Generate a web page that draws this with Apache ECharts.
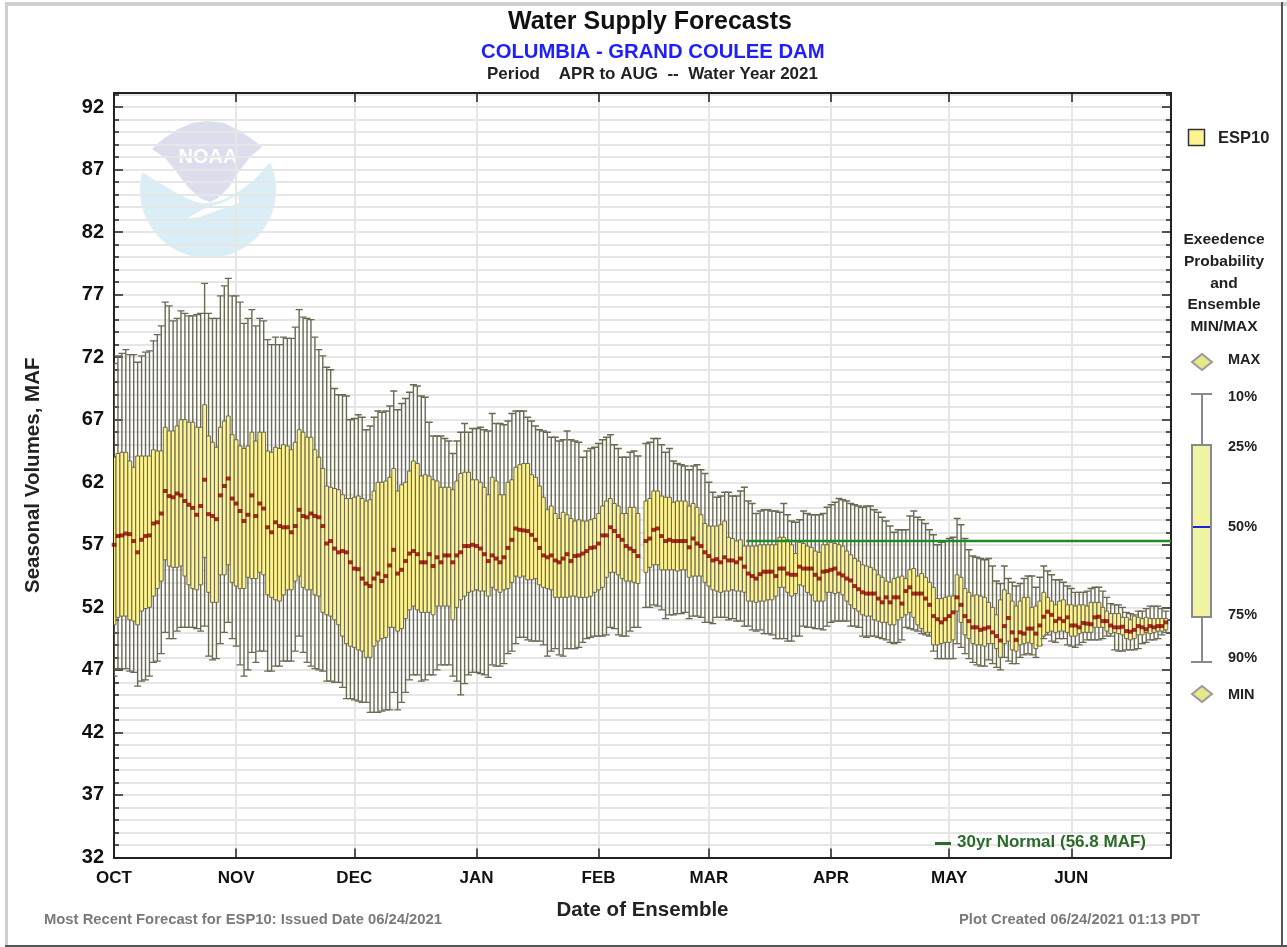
<!DOCTYPE html>
<html>
<head>
<meta charset="utf-8">
<style>
  html, body { margin: 0; padding: 0; background: #fff; }
  #chart { width: 1287px; height: 947px; }
</style>
<script src="https://cdn.jsdelivr.net/npm/echarts@6/dist/echarts.min.js"></script>
</head>
<body>
<div id="chart"></div>
<script>
// days since Oct 1 where each month starts
const monthStarts = [0, 31, 61, 92, 123, 151, 182, 212, 243]
const monthLabels = ['OCT', 'NOV', 'DEC', 'JAN', 'FEB', 'MAR', 'APR', 'MAY', 'JUN']
const volumeTicks = [32, 37, 42, 47, 52, 57, 62, 67, 72, 77, 82, 87, 92]

// 30yr normal as drawn on the plot (day range, MAF)
const normalDays = [160.5, 268.3]
const normalLevel = 57.3

// exceedence values per ensemble day, MAF
const p10 = [
  71.5,72.1,72.3,72.6,72.2,72.2,71.6,72.1,72.4,72.5,
  73.3,73.8,74.5,76.4,76.1,74.9,75.1,75.7,75.5,75.3,
  75.3,75.4,75.5,77.9,75.5,75.1,75.1,76.9,77.7,78.3,
  76.9,76.9,76.4,74.7,75.1,75.8,74.5,75.1,74.9,73.4,
  73.0,73.6,73.0,73.6,73.5,73.5,74.4,75.8,75.2,75.1,
  75.0,73.6,72.6,72.1,71.2,71.0,69.5,69.0,69.0,68.9,
  67.0,67.1,67.4,67.2,66.2,66.5,67.2,67.7,67.6,67.7,
  68.1,69.3,67.8,68.3,68.7,69.2,69.8,69.7,68.9,68.8,
  66.8,65.7,65.7,65.7,65.5,65.3,64.3,65.3,66.0,66.7,
  66.0,66.3,66.3,66.4,66.2,66.1,67.5,66.7,66.7,66.6,
  66.9,67.5,67.7,67.7,67.7,67.2,66.9,66.5,66.2,66.1,
  66.0,65.6,65.6,65.3,65.4,66.1,65.4,65.3,65.2,64.0,
  64.5,64.7,64.8,65.1,65.4,65.6,65.8,65.0,64.7,64.0,
  64.0,64.4,64.5,64.1,null,65.1,65.2,65.5,65.5,65.0,
  64.4,64.7,63.7,63.5,63.4,63.3,63.0,63.3,63.4,63.0,
  62.7,62.0,61.2,60.8,60.9,61.2,61.2,60.9,60.9,61.3,
  61.6,60.5,60.3,59.5,59.7,59.8,59.8,59.7,59.7,59.6,
  60.3,59.4,58.9,58.8,59.0,59.7,59.5,59.4,59.4,59.4,
  59.5,60.0,60.2,60.4,60.7,60.6,60.5,60.3,60.2,60.1,
  60.0,60.1,60.1,59.8,59.6,59.2,58.9,58.5,58.0,58.2,
  58.2,58.2,59.3,59.7,59.2,59.0,58.7,58.2,57.8,57.0,
  57.2,57.3,57.5,57.6,59.1,58.6,57.5,56.6,56.1,56.0,
  55.9,55.8,55.9,55.3,54.1,53.9,55.3,54.3,54.0,53.7,
  53.9,54.3,54.5,54.5,53.6,54.4,55.3,54.9,54.6,54.2,
  54.2,54.0,53.7,53.5,53.2,53.2,53.2,53.3,53.5,53.6,
  53.6,53.3,52.8,52.3,52.2,52.2,52.0,51.6,51.5,51.4,
  51.7,51.7,51.9,52.1,52.1,52.1,51.9,51.7
]
const p25 = [
  64.0,64.3,64.4,64.4,63.7,63.2,64.1,64.1,64.1,64.1,
  64.6,64.5,64.5,66.4,66.1,66.1,66.5,67.0,67.0,66.8,
  66.8,66.4,66.4,68.2,65.7,65.2,64.8,66.4,66.9,67.3,
  65.8,65.4,64.9,64.7,64.9,66.0,65.3,66.0,66.0,64.5,
  64.4,64.8,64.7,65.0,64.9,64.6,65.2,66.2,66.0,65.6,
  65.6,64.6,64.0,63.1,61.7,61.6,61.5,61.4,61.0,60.7,
  60.7,60.8,60.9,60.7,60.5,60.6,61.3,62.0,62.0,62.1,
  62.4,63.1,61.3,61.8,62.0,62.9,63.7,63.5,62.5,62.6,
  62.5,62.2,62.1,61.6,61.6,61.6,61.4,62.1,62.7,62.8,
  62.8,62.2,62.2,62.0,61.6,61.0,62.4,62.1,61.0,61.0,
  62.0,62.2,63.2,63.4,63.5,63.5,62.6,62.4,61.7,60.8,
  59.8,60.1,59.5,59.1,59.6,59.4,59.1,58.9,59.0,58.9,
  58.9,59.0,59.1,59.5,60.1,60.5,60.7,60.3,60.1,59.5,
  59.5,60.0,60.0,59.5,null,60.5,60.7,61.3,61.3,60.9,
  60.8,60.8,60.4,60.5,60.5,60.5,60.1,60.3,60.0,59.4,
  58.7,58.5,58.5,58.5,58.6,58.9,57.6,57.5,57.3,57.4,
  56.9,56.9,56.9,56.9,57.0,57.0,57.0,57.0,57.0,57.6,
  57.6,57.4,57.0,56.3,57.2,57.1,56.9,56.8,56.5,56.4,
  57.0,57.0,57.2,57.1,57.0,56.9,56.5,56.2,55.9,55.7,
  55.4,55.3,55.2,55.0,54.6,54.4,54.1,54.0,54.3,54.4,
  54.5,54.3,55.0,55.1,54.5,54.7,54.4,54.0,53.6,52.7,
  52.7,52.8,52.9,52.9,54.6,54.4,53.5,53.2,52.9,53.0,
  52.9,52.8,52.4,52.0,51.4,52.6,53.4,53.1,52.5,52.1,
  52.5,52.8,52.8,52.0,52.1,52.5,53.2,52.8,52.5,52.2,
  52.5,52.6,52.2,52.2,52.1,52.2,52.2,52.1,52.4,52.4,
  52.4,52.0,51.7,51.5,51.5,51.5,51.2,51.2,51.0,51.3,
  51.2,51.1,51.2,51.1,51.1,51.1,51.1,51.1
]
const p50 = [
  57.0,57.7,57.75,57.9,57.85,57.3,56.4,57.4,57.7,57.75,
  58.7,58.8,59.5,61.3,60.9,60.8,61.1,60.95,60.5,60.2,
  59.95,59.4,60.1,62.2,59.45,59.3,59.05,60.95,61.7,62.3,
  60.7,60.3,59.7,58.9,59.4,60.95,59.3,60.3,59.9,58.4,
  58.0,58.8,58.5,58.4,58.4,58.0,58.5,59.8,59.3,59.2,
  59.5,59.3,59.2,58.5,57.1,57.3,56.7,56.4,56.5,56.4,
  55.6,55.1,55.05,54.3,53.9,53.7,54.3,54.7,54.1,54.5,
  55.35,56.6,54.7,55.0,55.7,56.3,56.5,56.25,55.6,55.6,
  56.25,55.3,56.0,55.6,56.15,56.15,55.6,56.15,56.4,56.9,
  56.9,57.0,56.9,56.7,56.25,55.7,56.15,55.9,55.6,56.0,
  56.75,57.4,58.3,58.2,58.15,58.1,57.8,57.4,56.75,56.15,
  56.0,56.15,55.75,55.6,55.9,56.25,55.7,56.1,56.15,56.3,
  56.5,56.75,56.8,57.1,57.75,57.75,58.4,58.1,57.7,57.4,
  56.9,56.7,56.5,56.1,null,57.3,57.5,58.2,58.3,57.7,
  57.3,57.4,57.3,57.3,57.3,57.3,56.8,57.5,57.1,56.9,
  56.4,56.1,55.75,55.85,55.6,56.0,55.75,55.75,55.6,55.9,
  55.25,54.7,54.5,54.3,54.65,54.85,54.85,54.85,54.5,55.1,
  55.1,54.7,54.6,54.6,55.25,55.1,55.1,55.1,54.6,54.3,
  54.85,54.9,55.0,55.1,54.7,54.55,54.3,54.15,53.7,53.45,
  53.2,53.1,53.1,53.1,52.7,52.4,52.8,52.4,52.8,52.8,
  52.3,53.3,53.6,53.1,53.1,53.1,52.7,52.2,51.3,51.05,
  50.8,51.05,51.3,51.6,52.8,52.2,51.3,50.9,50.4,50.4,
  50.2,50.3,50.4,50.0,49.7,49.35,50.5,51.15,50.0,49.4,
  50.0,49.9,50.3,50.3,49.9,50.55,51.25,51.65,51.4,50.9,
  51.1,50.9,51.2,50.55,50.55,50.4,50.75,50.7,50.65,51.2,
  51.25,50.9,50.9,50.55,50.4,50.4,50.45,50.1,50.05,50.2,
  50.5,50.4,50.25,50.5,50.4,50.5,50.5,50.8
]
const p75 = [
  50.6,51.2,51.3,51.3,51.0,50.9,50.6,51.7,51.9,52.0,
  52.9,53.5,54.1,55.8,55.3,55.2,55.2,55.3,54.5,53.8,
  53.5,53.4,53.8,56.0,53.2,52.4,52.4,54.6,54.6,55.4,
  54.0,53.7,53.5,53.5,54.4,54.3,54.3,54.8,54.6,53.0,
  52.8,52.6,52.5,53.0,53.4,53.4,54.1,54.5,53.6,53.4,
  53.4,53.0,52.9,51.6,51.4,51.3,51.0,50.6,49.7,49.1,
  48.9,48.8,48.6,48.5,48.0,48.0,48.9,49.3,49.5,49.6,
  50.4,50.4,50.1,50.3,51.1,51.8,52.1,51.8,51.6,51.6,
  51.6,51.4,52.1,52.1,52.1,52.1,51.0,52.0,52.6,52.9,
  53.2,53.3,53.4,53.3,53.3,52.9,53.6,53.4,53.2,53.4,
  53.5,54.0,54.5,54.4,54.5,54.2,54.2,54.3,53.8,53.6,
  53.5,53.4,52.8,52.8,52.8,52.8,52.9,52.9,52.8,52.8,
  52.8,52.9,53.2,53.4,53.6,54.4,54.8,54.8,54.6,54.3,
  54.1,54.1,54.0,53.9,null,54.8,55.2,55.4,55.4,55.0,
  55.0,55.0,55.0,54.9,55.0,55.0,54.4,54.5,54.5,54.5,
  54.0,53.7,53.4,53.3,53.2,53.3,53.3,53.4,53.3,53.3,
  53.2,52.5,52.5,52.4,52.5,52.5,52.6,52.6,52.9,53.6,
  53.6,53.2,52.9,53.1,53.8,53.7,53.2,53.0,52.5,52.5,
  52.5,53.2,53.2,53.1,53.2,53.0,52.5,52.2,51.9,51.7,
  51.4,51.3,51.3,51.0,50.9,50.8,50.8,50.6,50.6,51.0,
  51.2,51.4,51.6,51.2,50.6,50.3,50.0,50.0,49.0,49.0,
  49.1,49.2,49.2,49.4,51.7,50.8,49.8,49.5,49.1,49.0,
  49.0,48.9,49.1,49.1,48.7,48.0,49.1,49.3,48.6,48.5,
  49.0,49.1,49.2,49.1,48.7,48.9,49.7,50.0,50.1,50.0,
  50.1,50.1,50.0,49.7,49.7,49.9,50.0,50.0,50.0,50.4,
  50.4,50.4,50.1,49.9,50.0,49.9,49.8,49.5,49.4,49.5,
  49.8,49.8,50.0,49.9,50.0,50.1,50.1,50.2
]
const p90 = [
  46.5,47.1,47.1,47.1,46.9,46.8,45.7,46.1,46.2,46.5,
  47.6,47.7,48.3,50.0,49.5,49.5,50.1,50.4,50.4,50.4,
  50.4,50.3,50.1,50.5,48.1,47.8,47.9,49.1,50.0,50.8,
  49.5,48.9,47.4,46.5,47.0,48.4,47.6,48.5,48.5,46.9,
  46.9,47.3,47.3,47.7,47.7,47.7,48.5,49.7,48.4,47.6,
  47.3,47.1,47.0,46.9,46.1,46.1,46.0,46.0,45.6,44.7,
  44.7,44.6,44.5,44.4,44.4,43.6,43.6,43.6,43.7,43.8,
  43.8,45.2,43.8,44.4,45.2,46.2,46.6,46.6,46.1,46.2,
  46.6,46.6,47.0,47.4,47.4,47.4,46.5,46.1,45.0,45.9,
  46.6,46.8,46.8,46.7,46.6,46.4,47.4,47.3,47.3,47.5,
  48.3,48.5,49.1,49.6,49.6,49.4,49.3,49.3,49.3,49.0,
  48.1,48.5,48.7,48.2,48.1,48.7,48.7,48.7,48.8,49.2,
  49.5,49.6,49.7,49.7,49.7,49.8,50.4,50.3,49.8,49.7,
  49.7,50.1,50.4,50.4,null,52.0,52.0,52.2,52.1,51.8,
  51.1,51.4,51.4,51.5,51.5,51.6,51.1,51.3,51.3,51.2,
  50.8,50.8,50.7,51.2,51.2,51.2,51.0,51.1,50.9,50.9,
  50.5,50.5,50.2,50.1,50.2,49.9,49.9,49.8,49.5,49.5,
  49.5,49.3,49.3,49.7,49.7,50.5,50.4,50.4,50.3,50.3,
  50.2,50.5,50.8,50.9,50.9,50.9,50.9,50.5,50.5,50.4,
  49.7,49.6,49.7,49.7,49.6,49.5,49.4,49.2,49.1,49.2,
  49.4,50.4,50.3,50.2,50.1,49.9,49.8,49.7,48.5,47.9,
  47.9,47.9,47.9,47.9,49.1,48.8,48.3,47.9,47.6,47.4,
  47.3,47.3,47.8,47.5,47.2,47.0,48.0,47.7,47.5,47.5,
  48.0,48.2,48.3,48.2,48.0,49.0,49.5,49.8,49.3,49.2,
  49.5,49.5,49.0,48.9,48.8,49.0,49.2,49.4,49.4,49.4,
  49.4,49.5,49.7,49.7,48.6,48.5,48.5,48.6,48.6,48.6,
  48.7,49.1,49.2,49.4,49.4,49.5,49.8,50.0
]

const FONT = '"Liberation Sans", Arial, sans-serif'
const boxRows = p50.map((v, i) => [i, p90[i], p75[i], v, p25[i], p10[i]])
const medianPoints = p50.map((v, i) => [i, v])

const chart = echarts.init(document.getElementById('chart'), null, { renderer: 'canvas' })

function renderBox(params, api) {
  const day = api.value(0)
  if (isNaN(api.value(3))) return null
  const xc = api.coord([day, api.value(3)])[0]
  const yLow = api.coord([day, api.value(1)])[1]
  const yQ3 = api.coord([day, api.value(2)])[1]
  const yQ1 = api.coord([day, api.value(4)])[1]
  const yHigh = api.coord([day, api.value(5)])[1]
  const wire = { stroke: '#6a6952', lineWidth: 1.4 }
  return {
    type: 'group',
    children: [
      { type: 'line', shape: { x1: xc, y1: yHigh, x2: xc, y2: yLow }, style: wire },
      { type: 'line', shape: { x1: xc - 3.5, y1: yHigh, x2: xc + 3.5, y2: yHigh }, style: wire },
      { type: 'line', shape: { x1: xc - 3.5, y1: yLow, x2: xc + 3.5, y2: yLow }, style: wire },
      {
        type: 'rect',
        shape: { x: xc - 1.9, y: yQ1, width: 3.8, height: yQ3 - yQ1 },
        style: { fill: '#fff38f', stroke: '#6a6952', lineWidth: 1 },
      },
    ],
  }
}

const labelText = (text, x, y, size, fill, align) => ({
  type: 'text',
  x,
  y,
  z: 20,
  style: { text, fill: fill || '#222', font: 'bold ' + size + 'px ' + FONT, textAlign: align || 'left', textVerticalAlign: 'middle' },
})

const gridLine = { show: true, lineStyle: { color: '#e6e6e6', width: 2 } }
const axisEdge = { show: true, onZero: false, lineStyle: { color: '#222', width: 2 } }
const fine = { inside: true, length: 5, lineStyle: { color: '#222', width: 1.5 } }
const coarse = { inside: true, length: 9, customValues: volumeTicks, lineStyle: { color: '#222', width: 1.5 } }
const volumeRange = { type: 'value', min: 32, max: 93.12 }

chart.setOption({
  animation: false,
  backgroundColor: '#fff',
  title: [
    { text: 'Water Supply Forecasts', left: 503, top: 5, textStyle: { fontFamily: FONT, fontSize: 25, fontWeight: 'bold', color: '#111' } },
    { text: 'COLUMBIA - GRAND COULEE DAM', left: 476, top: 37, textStyle: { fontFamily: FONT, fontSize: 20.3, fontWeight: 'bold', color: '#1e1eff' } },
    { text: 'Period    APR to AUG  --  Water Year 2021', left: 482, top: 61, textStyle: { fontFamily: FONT, fontSize: 17, fontWeight: 'bold', color: '#222' } },
  ],
  grid: { left: 114, top: 93, width: 1057, height: 764.5 },
  xAxis: [
    {
      type: 'value',
      min: 0,
      max: 268.3,
      position: 'bottom',
      axisLine: axisEdge,
      axisTick: { inside: true, length: 9, customValues: monthStarts, lineStyle: { color: '#222', width: 1.5 } },
      axisLabel: {
        customValues: monthStarts,
        formatter: (v) => monthLabels[monthStarts.indexOf(v)],
        margin: 12,
        color: '#111',
        fontFamily: FONT,
        fontSize: 17,
        fontWeight: 'bold',
        hideOverlap: false,
      },
      splitLine: gridLine,
      name: 'Date of Ensemble',
      nameLocation: 'middle',
      nameGap: 42,
      nameTextStyle: { fontFamily: FONT, fontSize: 20.5, fontWeight: 'bold', color: '#222' },
    },
    {
      type: 'value',
      min: 0,
      max: 268.3,
      position: 'top',
      axisLine: axisEdge,
      axisTick: { inside: true, length: 9, customValues: monthStarts, lineStyle: { color: '#222', width: 1.5 } },
      axisLabel: { show: false },
      splitLine: { show: false },
    },
  ],
  yAxis: [
    {
      ...volumeRange,
      position: 'left',
      interval: 1,
      axisLine: axisEdge,
      axisTick: fine,
      axisLabel: { show: false },
      splitLine: gridLine,
    },
    {
      ...volumeRange,
      position: 'left',
      axisLine: axisEdge,
      axisTick: coarse,
      axisLabel: {
        customValues: volumeTicks,
        margin: 10,
        color: '#111',
        fontFamily: FONT,
        fontSize: 20,
        fontWeight: 'bold',
      },
      splitLine: { show: false },
      name: 'Seasonal Volumes, MAF',
      nameLocation: 'middle',
      nameGap: 70,
      nameTextStyle: { fontFamily: FONT, fontSize: 20.5, fontWeight: 'bold', color: '#222' },
    },
    {
      ...volumeRange,
      position: 'right',
      interval: 1,
      axisLine: axisEdge,
      axisTick: fine,
      axisLabel: { show: false },
      splitLine: { show: false },
    },
    {
      ...volumeRange,
      position: 'right',
      axisLine: axisEdge,
      axisTick: coarse,
      axisLabel: { show: false },
      splitLine: { show: false },
    },
  ],
  series: [
    {
      name: 'ESP10',
      type: 'custom',
      data: boxRows,
      clip: true,
      renderItem: renderBox,
      z: 3,
    },
    {
      name: '30yr Normal',
      type: 'line',
      data: normalDays.map((d) => [d, normalLevel]),
      showSymbol: false,
      lineStyle: { color: '#1f8a25', width: 2.5 },
      z: 4,
    },
    {
      name: 'Median',
      type: 'scatter',
      data: medianPoints,
      symbol: 'rect',
      symbolSize: [4.6, 4],
      itemStyle: { color: '#8b0000' },
      clip: true,
      z: 5,
    },
  ],
  graphic: [
    // page frame
    { type: 'rect', z: -5, shape: { x: 5, y: 2, width: 1282, height: 4 }, style: { fill: '#cfcfcf' } },
    { type: 'rect', z: -5, shape: { x: 5, y: 2, width: 3, height: 945 }, style: { fill: '#cfcfcf' } },
    { type: 'rect', z: -5, shape: { x: 5, y: 945, width: 1282, height: 2 }, style: { fill: '#555' } },
    { type: 'rect', z: -5, shape: { x: 1281, y: 2, width: 2, height: 945 }, style: { fill: '#555' } },

    // NOAA logo under the grid
    { type: 'circle', z: -4, shape: { cx: 208, cy: 190, r: 68 }, style: { fill: '#d9eef7' } },
    {
      type: 'polygon',
      z: -3,
      shape: {
        smooth: 0.2,
        points: [[130, 110], [285, 110], [285, 158], [271, 162], [256, 178], [238, 192], [220, 201], [200, 203], [180, 195], [160, 183], [142, 172], [130, 165]],
      },
      style: { fill: '#fff' },
    },
    {
      type: 'polygon',
      z: -2,
      shape: {
        points: [[152, 149], [163, 139], [178, 129], [192, 123], [207, 121], [224, 123], [240, 131], [252, 139], [262, 147], [250, 157], [240, 170], [229, 187], [218, 198], [210, 202], [200, 198], [188, 187], [175, 170], [165, 158]],
      },
      style: { fill: '#dcdded' },
    },
    {
      type: 'polygon',
      z: -2,
      shape: { points: [[188, 218], [205, 208], [222, 203], [238, 195], [239, 203], [216, 211], [200, 217]] },
      style: { fill: '#fff' },
    },
    { ...labelText('NOAA', 208, 157, 20, '#fff', 'center'), z: -1 },

    // 30yr normal key inside the plot
    { type: 'rect', z: 20, shape: { x: 935, y: 842, width: 16, height: 3 }, style: { fill: '#2a6b2a' } },
    labelText('30yr Normal (56.8 MAF)', 957, 842, 17, '#2a6b2a'),

    // footer
    labelText('Most Recent Forecast for ESP10: Issued Date 06/24/2021', 44, 920, 14.8, '#7a7a7a'),
    labelText('Plot Created 06/24/2021 01:13 PDT', 959, 920, 14.8, '#7a7a7a'),

    // legend
    { type: 'rect', z: 20, shape: { x: 1188.5, y: 129.5, width: 16, height: 16 }, style: { fill: '#fff38f', stroke: '#333', lineWidth: 1.5 } },
    labelText('ESP10', 1218, 138, 16.5),
    labelText('Exeedence', 1224, 240, 15.5, '#222', 'center'),
    labelText('Probability', 1224, 262, 15.5, '#222', 'center'),
    labelText('and', 1224, 284, 15.5, '#222', 'center'),
    labelText('Ensemble', 1224, 305, 15.5, '#222', 'center'),
    labelText('MIN/MAX', 1224, 327, 15.5, '#222', 'center'),

    // exceedence key
    { type: 'polygon', z: 20, shape: { points: [[1192, 362], [1202, 354], [1212, 362], [1202, 370]] }, style: { fill: '#e6e88c', stroke: '#999', lineWidth: 2 } },
    { type: 'polygon', z: 20, shape: { points: [[1192, 694], [1202, 686], [1212, 694], [1202, 702]] }, style: { fill: '#e6e88c', stroke: '#999', lineWidth: 2 } },
    { type: 'line', z: 20, shape: { x1: 1202, y1: 394, x2: 1202, y2: 662 }, style: { stroke: '#8a8a8a', lineWidth: 2 } },
    { type: 'line', z: 20, shape: { x1: 1191, y1: 394, x2: 1212, y2: 394 }, style: { stroke: '#8a8a8a', lineWidth: 2 } },
    { type: 'line', z: 20, shape: { x1: 1191, y1: 662, x2: 1212, y2: 662 }, style: { stroke: '#8a8a8a', lineWidth: 2 } },
    { type: 'rect', z: 21, shape: { x: 1192, y: 445, width: 19, height: 172 }, style: { fill: '#f0f3a0', stroke: '#8a8a8a', lineWidth: 2 } },
    { type: 'line', z: 22, shape: { x1: 1193, y1: 527, x2: 1210, y2: 527 }, style: { stroke: '#2020e0', lineWidth: 2 } },
    labelText('MAX', 1228, 360, 14.5),
    labelText('10%', 1228, 397, 14.5),
    labelText('25%', 1228, 447, 14.5),
    labelText('50%', 1228, 527, 14.5),
    labelText('75%', 1228, 615, 14.5),
    labelText('90%', 1228, 658, 14.5),
    labelText('MIN', 1228, 695, 14.5),
  ],
})
</script>
</body>
</html>
